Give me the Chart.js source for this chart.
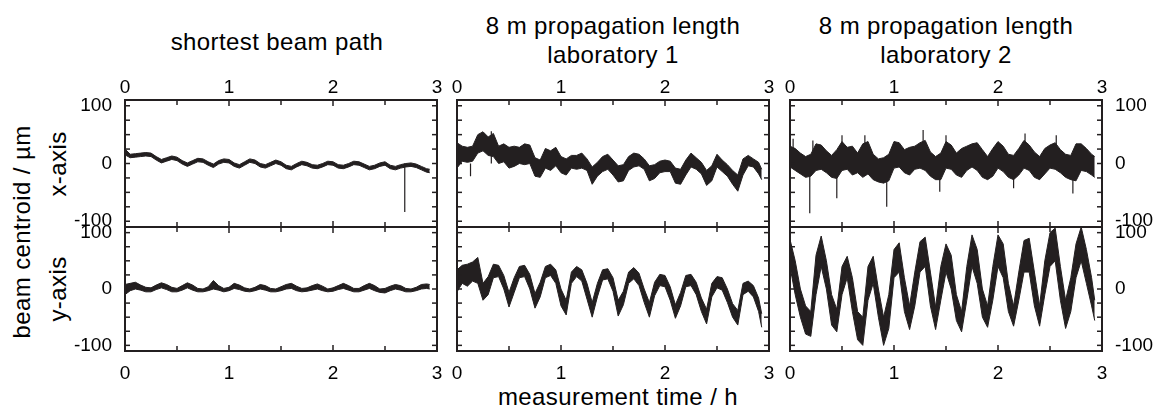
<!DOCTYPE html>
<html>
<head>
<meta charset="utf-8">
<title>beam centroid drift</title>
<script src="https://cdn.jsdelivr.net/npm/chart.js@4.4.0/dist/chart.umd.min.js"></script>
<style>
    body { margin: 0; background: #fff; }
    #wrap {
        position: relative; width: 1157px; height: 409px; overflow: hidden;
        font-family: 'Liberation Sans', Arial, sans-serif; color: #000;
    }
    #wrap canvas { position: absolute; }
    .lbl {
        position: absolute; font-size: 24px; line-height: 24px;
        letter-spacing: 0.4px; white-space: nowrap; transform: translateX(-50%);
    }
    .rot { transform: translate(-50%, -50%) rotate(-90deg); }
</style>
</head>
<body>
<div id="wrap">
    <div class="lbl" style="left:277px; top:30px;">shortest beam path</div>
    <div class="lbl" style="left:613px; top:14px;">8 m propagation length</div>
    <div class="lbl" style="left:613px; top:43px;">laboratory 1</div>
    <div class="lbl" style="left:946px; top:14px;">8 m propagation length</div>
    <div class="lbl" style="left:946px; top:43px;">laboratory 2</div>
    <div class="lbl rot" style="left:22px; top:232px;">beam centroid / µm</div>
    <div class="lbl rot" style="left:58px; top:164px;">x-axis</div>
    <div class="lbl rot" style="left:58px; top:289px;">y-axis</div>
    <div class="lbl" style="left:618px; top:385px;">measurement time / h</div>
</div>
<script>
// sample times in hours (one envelope value pair per sample)
const times = [
    0, 0.05, 0.1, 0.15, 0.2, 0.25, 0.3, 0.35, 0.4, 0.45,
    0.5, 0.55, 0.6, 0.65, 0.7, 0.75, 0.8, 0.85, 0.9, 0.95,
    1, 1.05, 1.1, 1.15, 1.2, 1.25, 1.3, 1.35, 1.4, 1.45,
    1.5, 1.55, 1.6, 1.65, 1.7, 1.75, 1.8, 1.85, 1.9, 1.95,
    2, 2.05, 2.1, 2.15, 2.2, 2.25, 2.3, 2.35, 2.4, 2.45,
    2.5, 2.55, 2.6, 2.65, 2.7, 2.75, 2.8, 2.85, 2.9, 2.93
];

// shortest beam path, x-axis (µm): lower / upper edge of the noise band
const shortXLo = [
    15, 10, 11, 12, 13, 12, 6, 1, 4, 7,
    5, -1, -5, -1, 3, 2, -3, -7, -1, 2,
    1, -5, -8, -3, 2, 0, -6, -8, -4, 0,
    -3, -9, -11, -6, -2, -4, -8, -9, -6, -2,
    -3, -8, -9, -6, -2, -3, -7, -11, -9, -5,
    -3, -9, -11, -8, -6, -5, -7, -11, -15, -16
];
const shortXHi = [
    25, 16, 17, 18, 19, 18, 12, 7, 10, 13,
    11, 5, 1, 5, 9, 8, 3, -1, 5, 8,
    7, 1, -2, 3, 8, 6, 0, -2, 2, 6,
    3, -3, -5, 0, 4, 2, -2, -3, 0, 4,
    3, -2, -3, 0, 4, 3, -1, -5, -3, 1,
    3, -3, -5, -2, 0, 1, -1, -5, -9, -10
];
// single glitches (time, extreme value)
const shortXSpikeT = [2.69];
const shortXSpikeV = [-84];

// shortest beam path, y-axis
const shortYLo = [
    -10, -3, 0, -2, -5, -5, -1, 2, -1, -5,
    -5, -2, 2, -2, -5, -5, -3, 0, -2, -5,
    -3, 1, -1, -4, -5, -3, 0, -2, -5, -5,
    -3, 0, 1, -3, -5, -4, -2, 0, -3, -5,
    -4, -1, 1, -2, -5, -5, -2, 1, -3, -6,
    -7, -3, 0, -2, -5, -5, -3, 0, 1, 0
];
const shortYHi = [
    8, 10, 12, 7, 3, 2, 7, 11, 8, 3,
    1, 6, 11, 7, 1, 0, 4, 15, 6, 1,
    3, 10, 7, 2, 0, 3, 8, 6, 1, 0,
    4, 8, 10, 5, 1, 2, 6, 9, 5, 0,
    2, 6, 10, 6, 1, 1, 6, 10, 6, 0,
    1, 5, 8, 6, 1, 0, 3, 8, 9, 8
];
const shortYSpikeT = [];
const shortYSpikeV = [];

// 8 m, laboratory 1, x-axis
const lab1XLo = [
    -8, 4, 2, 4, 18, 22, 14, 12, 0, 3,
    -8, -5, 0, -2, 0, -22, -24, -8, -12, -4,
    -16, -20, -8, -10, -8, -12, -36, -22, -14, -10,
    -20, -32, -30, -12, -6, -4, -10, -30, -26, -16,
    -14, -14, -34, -36, -20, -6, -10, -18, -38, -30,
    -6, -14, -22, -36, -48, -20, -4, -6, -18, -28
];
const lab1XHi = [
    36, 30, 28, 30, 50, 55, 46, 52, 30, 34,
    28, 30, 28, 34, 32, 10, 6, 26, 22, 28,
    12, 8, 14, 14, 18, 8, -6, 2, 12, 16,
    6, -4, -2, 12, 18, 16, 8, -4, -2, 4,
    6, 4, -8, -10, 6, 18, 10, 2, -12, -4,
    16, 6, -2, -12, -20, 8, 14, 8, 2, -10
];
const lab1XSpikeT = [0.13, 0.33];
const lab1XSpikeV = [-22, 56];

// 8 m, laboratory 1, y-axis
const lab1YLo = [
    -5, 10, 5, 14, 10, -20, -10, 20, 22, 0,
    -32, -6, 20, 22, 0, -34, -14, 20, 24, 10,
    -30, -46, 10, 22, 14, -18, -50, -14, 16, 18,
    -4, -48, -28, 10, 18, 6, -24, -50, -12, 6,
    4, -20, -52, -30, 4, 6, -10, -40, -62, -14,
    2, -2, -24, -50, -64, -10, -4, -14, -40, -68
];
const lab1YHi = [
    34, 42, 44, 48, 56, 10, 22, 44, 42, 24,
    -6, 20, 40, 42, 26, -8, 12, 40, 44, 34,
    0, -20, 30, 40, 34, 10, -24, 10, 34, 36,
    20, -20, -4, 30, 38, 28, 0, -24, 12, 26,
    24, 4, -28, -6, 24, 26, 12, -16, -36, 10,
    22, 20, 0, -26, -38, 10, 14, 6, -16, -44
];
const lab1YSpikeT = [];
const lab1YSpikeV = [];

// 8 m, laboratory 2, x-axis
const lab2XLo = [
    -6, -12, -18, -24, -22, -12, -10, -16, -24, -26,
    -12, -10, -20, -16, -24, -18, -28, -32, -34, -30,
    -8, -6, -16, -20, -10, -8, -12, -22, -28, -28,
    -8, -10, -20, -24, -12, -6, -12, -24, -28, -22,
    -8, -14, -24, -28, -20, -8, -12, -24, -28, -18,
    -8, -10, -16, -24, -28, -30, -12, -14, -20, -24
];
const lab2XHi = [
    30, 26, 18, 12, 16, 34, 32, 22, 14, 24,
    38, 28, 30, 18, 34, 38, 16, 8, 10, 16,
    38, 36, 24, 28, 30, 36, 40, 20, 12, 18,
    38, 32, 18, 26, 30, 34, 36, 24, 12, 26,
    38, 30, 16, 14, 26, 40, 32, 20, 12, 26,
    32, 36, 24, 16, 14, 34, 34, 26, 16, 12
];
const lab2XSpikeT = [0.03, 0.19, 0.22, 0.45, 0.5, 0.72, 0.93, 1.28, 1.44, 1.5, 2.15, 2.26, 2.56, 2.72];
const lab2XSpikeV = [43, -86, 40, -60, 49, 49, -75, 58, -49, 49, -43, 52, 49, -52];

// 8 m, laboratory 2, y-axis
const lab2YLo = [
    40, -10, -50, -80, -84, -10, 40, 0, -64, -76,
    -10, 20, -40, -90, -100, -20, 10, -50, -100, -70,
    20, 30, -40, -72, -30, 30, 40, -30, -72, -20,
    30, 0, -56, -76, -20, 40, 10, -50, -68, -20,
    40, 20, -40, -66, -20, 30, 30, -30, -66, -10,
    40, 50, -20, -70, -40, 20, 50, 10, -30, -56
];
const lab2YHi = [
    88, 50, 0, -30, -40, 60, 94, 50, -10, -36,
    40, 58, 20, -40, -50, 40, 58, 0, -50, -10,
    70, 82, 20, -30, 30, 84, 92, 30, -32, 40,
    80, 60, -10, -40, 40, 96, 70, 0, -30, 40,
    96, 80, 10, -30, 30, 86, 90, 30, -30, 50,
    100, 108, 40, -20, 20, 80, 110, 70, 20, -20
];
const lab2YSpikeT = [];
const lab2YSpikeV = [];

const xTickValues = [0, 0.5, 1, 1.5, 2, 2.5, 3];
const xLabelValues = [0, 1, 2, 3];
const yTickValues = [-100, -75, -50, -25, 0, 25, 50, 75, 100];
const yLabelValues = [-100, 0, 100];

const ink = '#231f20';
const fontFamily = "'Liberation Sans', Arial, sans-serif";
const G = 55;   // horizontal gutter around each plot
const V = 40;   // vertical gutter

// where each panel's plot box sits on the page
const panels = [
    { lo: shortXLo, hi: shortXHi, sT: shortXSpikeT, sV: shortXSpikeV, left: 125, top: 100, h: 127, row: 'top',    ySide: 'left',  showY: true },
    { lo: shortYLo, hi: shortYHi, sT: shortYSpikeT, sV: shortYSpikeV, left: 125, top: 227, h: 124, row: 'bottom', ySide: 'left',  showY: true },
    { lo: lab1XLo,  hi: lab1XHi,  sT: lab1XSpikeT,  sV: lab1XSpikeV,  left: 457, top: 100, h: 127, row: 'top',    ySide: 'left',  showY: false },
    { lo: lab1YLo,  hi: lab1YHi,  sT: lab1YSpikeT,  sV: lab1YSpikeV,  left: 457, top: 227, h: 124, row: 'bottom', ySide: 'left',  showY: false },
    { lo: lab2XLo,  hi: lab2XHi,  sT: lab2XSpikeT,  sV: lab2XSpikeV,  left: 790, top: 100, h: 127, row: 'top',    ySide: 'right', showY: true },
    { lo: lab2YLo,  hi: lab2YHi,  sT: lab2YSpikeT,  sV: lab2YSpikeV,  left: 790, top: 227, h: 124, row: 'bottom', ySide: 'right', showY: true }
];

function toPoints(values) {
    return times.map((t, i) => ({ x: t, y: values[i] }));
}

// glitches drawn as thin vertical strokes out of the band
function spikePoints(ts, vs) {
    const pts = [];
    ts.forEach((t, i) => {
        pts.push({ x: t, y: 0 }, { x: t, y: vs[i] }, { x: t, y: null });
    });
    return pts;
}

// Box frame with inward ticks on all four sides
const frameTicks = {
    id: 'frameTicks',
    afterDatasetsDraw(chart) {
        const { ctx, chartArea: a, scales } = chart;
        const line = (x1, y1, x2, y2) => {
            ctx.beginPath(); ctx.moveTo(x1, y1); ctx.lineTo(x2, y2); ctx.stroke();
        };
        ctx.save();
        ctx.strokeStyle = ink;
        ctx.lineWidth = 1.5;
        xTickValues.forEach(v => {
            const px = scales.x.getPixelForValue(v);
            const len = Number.isInteger(v) ? 6 : 5;
            line(px, a.top, px, a.top + len);
            line(px, a.bottom, px, a.bottom - len);
        });
        yTickValues.forEach(v => {
            const py = scales.y.getPixelForValue(v);
            line(a.left, py, a.left + 5, py);
            line(a.right, py, a.right - 5, py);
        });
        ctx.lineWidth = 2;
        ctx.strokeRect(a.left, a.top, a.right - a.left, a.bottom - a.top);
        ctx.restore();
    }
};

function makePanel(p) {
    const cv = document.createElement('canvas');
    cv.width = 312 + 2 * G;
    cv.height = p.h + 2 * V;
    cv.style.left = (p.left - G) + 'px';
    cv.style.top = (p.top - V) + 'px';
    document.getElementById('wrap').appendChild(cv);

    const tickFont = { family: fontFamily, size: 19 };

    return new Chart(cv, {
        type: 'line',
        data: {
            datasets: [
                { data: toPoints(p.hi), borderColor: ink, borderWidth: 1, pointRadius: 0, fill: false },
                { data: toPoints(p.lo), borderColor: ink, borderWidth: 1, pointRadius: 0, fill: '-1', backgroundColor: ink },
                { data: spikePoints(p.sT, p.sV), borderColor: ink, borderWidth: 1.2, pointRadius: 0, fill: false, spanGaps: false }
            ]
        },
        options: {
            responsive: false,
            animation: false,
            events: [],
            layout: {
                padding: {
                    top: p.row === 'top' ? 0 : V,
                    bottom: p.row === 'top' ? V : 0,
                    left: p.ySide === 'left' ? 0 : G,
                    right: p.ySide === 'left' ? G : 0
                }
            },
            plugins: { legend: { display: false }, tooltip: { enabled: false } },
            scales: {
                x: {
                    type: 'linear',
                    min: 0,
                    max: 3,
                    position: p.row,
                    afterBuildTicks: s => { s.ticks = xLabelValues.map(v => ({ value: v })); },
                    afterFit: s => { s.height = V; },
                    grid: { display: false, drawTicks: false },
                    border: { display: false },
                    ticks: {
                        font: tickFont,
                        color: '#000',
                        padding: p.row === 'top' ? 1 : 11,
                        maxRotation: 0,
                        autoSkip: false
                    }
                },
                y: {
                    type: 'linear',
                    min: -110,
                    max: 110,
                    position: p.ySide,
                    afterBuildTicks: s => { s.ticks = yLabelValues.map(v => ({ value: v })); },
                    afterFit: s => { s.width = G; },
                    grid: { display: false, drawTicks: false },
                    border: { display: false },
                    ticks: {
                        display: p.showY,
                        font: tickFont,
                        color: '#000',
                        padding: 13
                    }
                }
            }
        },
        plugins: [frameTicks]
    });
}

document.addEventListener('DOMContentLoaded', function() {
    panels.forEach(makePanel);
});
</script>
</body>
</html>
